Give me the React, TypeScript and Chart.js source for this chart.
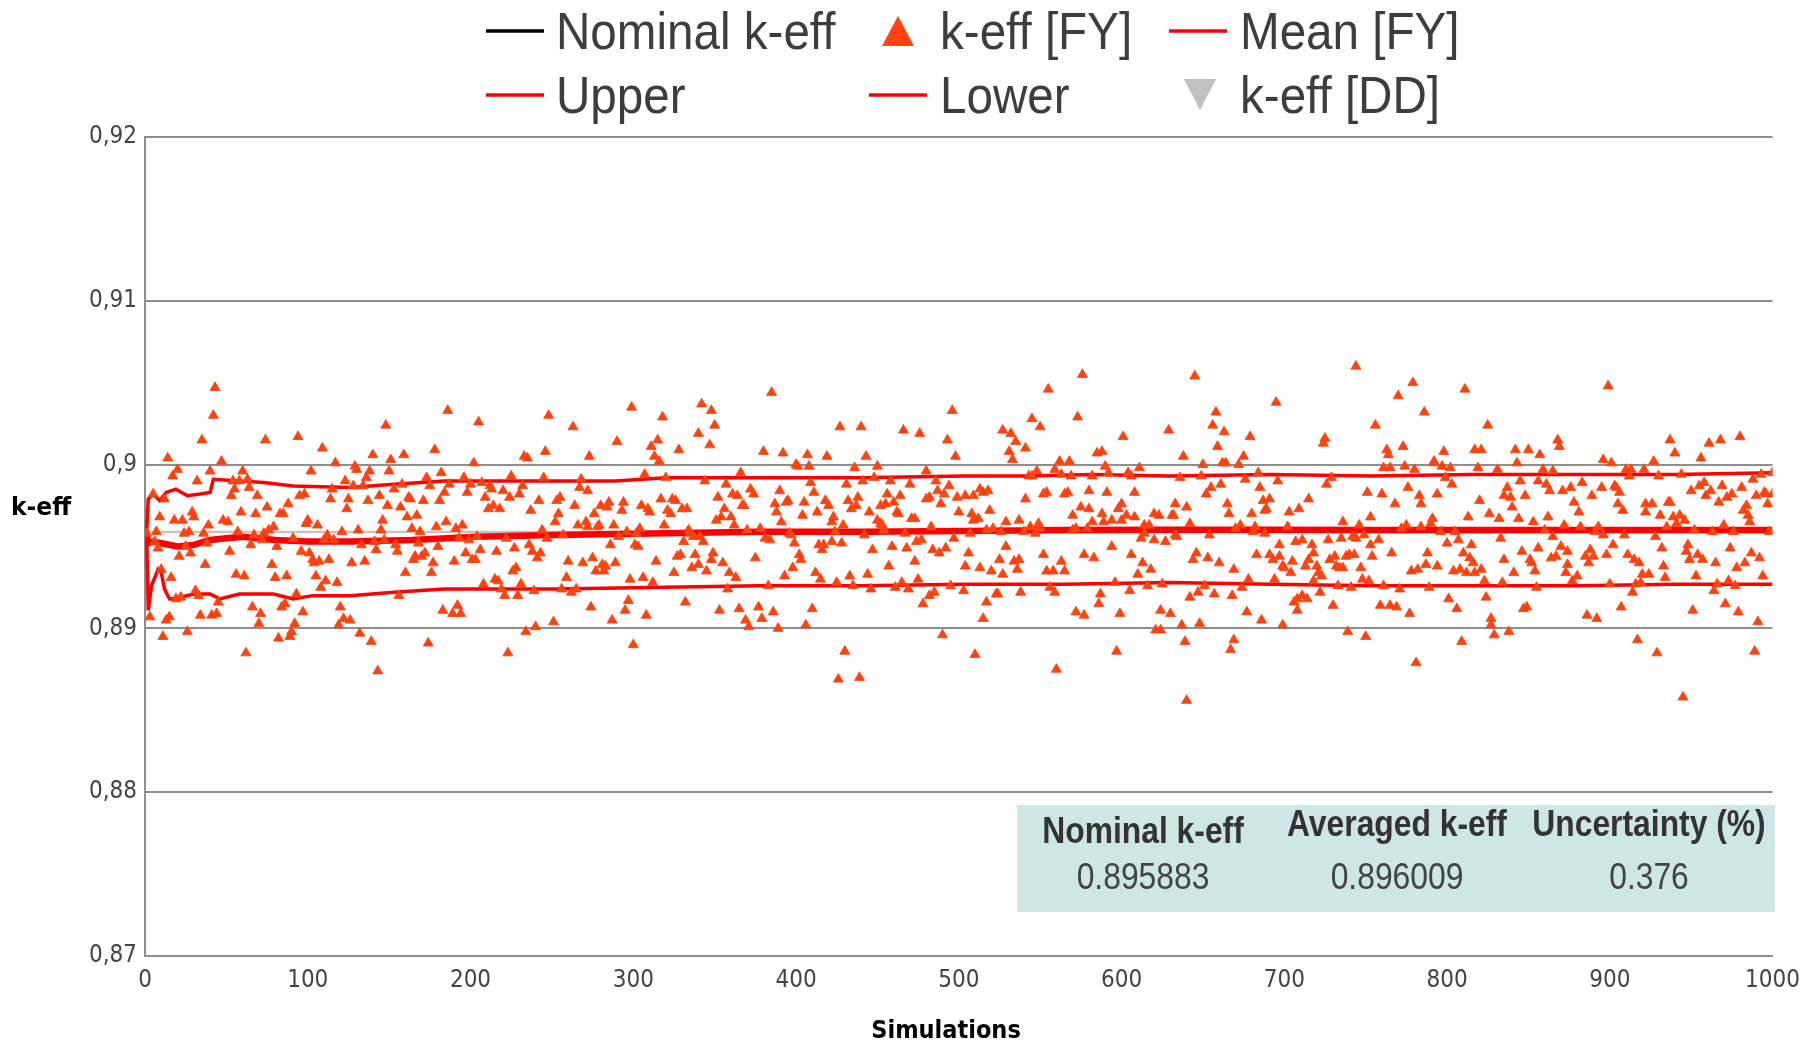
import React, { useEffect, useRef } from 'react';
import { Chart, registerables } from 'chart.js';

Chart.register(...registerables);

// ---------------- DATA ----------------
const xTickValues = [0, 100, 200, 300, 400, 500, 600, 700, 800, 900, 1000];
const yTickValues = [0.87, 0.88, 0.89, 0.9, 0.91, 0.92];

const nominalKeff = 0.895883;
const averagedKeff = 0.896009;
const uncertaintyPct = 0.376;

// k-eff [FY] : [simulation, k-eff]
const keffFY: [number, number][] = [
  [43,.9047],[42,.9030],[35,.9015],[74,.9015],[94,.9017],[109,.9010],[14,.9004],[47,.9002],[117,.9001],
  [20,.8997],[17,.8993],[40,.8996],[60,.8996],[102,.8996],[32,.8990],[54,.8990],[58,.8990],[63,.8991],[123,.8990],
  [55,.8985],[64,.8986],[115,.8985],[5,.8982],[12,.8979],[53,.8981],[69,.8981],[95,.8981],[98,.8982],[114,.8979],[125,.8979],
  [88,.8976],[75,.8974],[29,.8971],[59,.8971],[68,.8970],[83,.8970],[85,.8970],[9,.8968],[18,.8966],[23,.8966],[30,.8968],[48,.8966],[51,.8965],[99,.8964],[100,.8966],[106,.8963],[124,.8973],
  [39,.8963],[79,.8962],[7,.8959],[24,.8958],[27,.8959],[36,.8958],[57,.8959],[76,.8960],[73,.8958],[121,.8959],[112,.8957],
  [1,.8958],[6,.8953],[8,.8949],[25,.8950],[38,.8952],[52,.8947],[65,.8951],[67,.8957],[72,.8954],[81,.8950],[91,.8955],[96,.8947],[101,.8946],[110,.8954],[116,.8954],
  [21,.8944],[28,.8946],[37,.8939],[78,.8939],[103,.8942],[104,.8940],[107,.8941],[113,.8942],[10,.8936],[16,.8931],[56,.8933],[61,.8932],[80,.8931],[87,.8932],[105,.8932],[111,.8929],[118,.8928],[108,.8925],
  [31,.8923],[45,.8916],[19,.8918],[22,.8919],[33,.8920],[93,.8921],[66,.8913],[71,.8909],[97,.8910],[120,.8913],[84,.8913],[86,.8915],
  [3,.8907],[13,.8905],[15,.8907],[34,.8908],[41,.8908],[44,.8909],[70,.8903],[92,.8903],[122,.8906],[126,.8905],[119,.8902],
  [11,.8895],[26,.8898],[82,.8894],[89,.8895],[90,.8898],[62,.8885],

  [148,.9024],[186,.9033],[205,.9026],[248,.9030],[140,.9006],[151,.9003],[159,.9006],[178,.9009],[233,.9005],[235,.9004],[246,.9008],
  [129,.8999],[130,.8997],[138,.8996],[136,.8992],[150,.8996],[182,.8995],[202,.9001],
  [128,.8987],[134,.8987],[137,.8978],[144,.8981],[149,.8975],[153,.8985],[158,.8988],[162,.8980],[163,.8979],[171,.8978],[173,.8992],[175,.8987],[181,.8978],[184,.8983],[187,.8988],[196,.8992],[198,.8983],[200,.8988],[207,.8989],[209,.8980],[211,.8973],[212,.8987],[213,.8985],[214,.8975],[218,.8973],[220,.8984],[224,.8980],[225,.8993],[230,.8982],[232,.8987],[237,.8972],[242,.8978],[245,.8992],
  [157,.8974],[161,.8968],[167,.8969],[146,.8966],[145,.8960],[131,.8960],[164,.8961],[169,.8959],[179,.8962],[185,.8965],[191,.8961],[195,.8963],[193,.8955],[199,.8954],[204,.8956],[222,.8955],[227,.8949],[236,.8951],[244,.8960],[247,.8955],
  [133,.8951],[141,.8953],[142,.8948],[147,.8954],[154,.8951],[155,.8947],[168,.8952],[180,.8950],[190,.8941],[197,.8946],[201,.8942],[203,.8942],[206,.8948],[216,.8947],[238,.8947],[241,.8943],[243,.8946],
  [127,.8940],[135,.8941],[160,.8934],[165,.8942],[166,.8944],[170,.8944],[172,.8946],[177,.8940],[176,.8934],[226,.8935],[228,.8937],[215,.8930],[217,.8929],[208,.8927],[219,.8924],[221,.8920],[229,.8920],[231,.8927],[239,.8923],
  [156,.8920],[183,.8911],[189,.8909],[192,.8914],[194,.8909],[132,.8897],[139,.8892],[174,.8891],[234,.8898],[240,.8901],[223,.8885],[143,.8874],

  [299,.9035],[342,.9037],[348,.9033],[350,.9024],[263,.9023],[318,.9029],[340,.9019],[315,.9015],[290,.9014],[311,.9011],[347,.9012],[328,.9009],[273,.9005],[313,.9005],[316,.9002],
  [307,.8994],[320,.8992],[344,.8990],[366,.8995],[268,.8991],[267,.8986],[272,.8984],[255,.8980],[253,.8978],[357,.8988],[372,.8985],[374,.8982],[352,.8980],[361,.8982],[364,.8981],[368,.8975],[367,.8975],
  [264,.8975],[254,.8970],[252,.8965],[276,.8970],[280,.8975],[285,.8977],[284,.8974],[293,.8972],[294,.8977],[305,.8975],[309,.8973],[310,.8971],[317,.8979],[324,.8979],[326,.8978],[321,.8972],[323,.8970],[330,.8973],[333,.8973],[356,.8973],[354,.8968],[360,.8968],[351,.8966],[362,.8963],
  [266,.8963],[271,.8965],[272,.8962],[279,.8963],[278,.8962],[288,.8963],[296,.8959],[302,.8958],[304,.8961],[319,.8963],[334,.8960],[335,.8958],[337,.8956],[341,.8956],[343,.8953],[370,.8960],[257,.8957],[291,.8956],[331,.8953],[286,.8951],[301,.8951],[303,.8950],
  [260,.8941],[269,.8940],[275,.8943],[281,.8939],[283,.8938],[277,.8935],[282,.8935],[289,.8940],[314,.8941],[327,.8944],[329,.8945],[338,.8945],[349,.8946],[348,.8942],[355,.8940],[336,.8937],[340,.8939],[345,.8935],[325,.8934],[375,.8943],
  [259,.8931],[298,.8930],[306,.8931],[312,.8928],[359,.8934],[363,.8931],[256,.8924],[262,.8922],[265,.8924],[358,.8924],
  [274,.8913],[297,.8917],[295,.8911],[308,.8908],[332,.8916],[353,.8911],[365,.8912],[251,.8904],[287,.8905],[369,.8905],[371,.8901],[300,.8890],

  [385,.9044],[496,.9033],[427,.9023],[440,.9023],[466,.9021],[476,.9019],[493,.9015],[380,.9008],[392,.9007],[407,.9006],[419,.9005],[443,.9005],[498,.9005],[400,.9000],[401,.8999],[408,.8999],[436,.8998],[450,.8999],
  [480,.8996],[409,.8989],[431,.8988],[441,.8990],[448,.8992],[458,.8990],[470,.8988],[486,.8990],[494,.8987],[390,.8984],[411,.8983],[456,.8982],[464,.8981],[487,.8984],[491,.8982],[480,.8979],[482,.8980],[499,.8980],
  [387,.8976],[388,.8971],[394,.8977],[395,.8978],[405,.8977],[404,.8969],[413,.8971],[418,.8978],[420,.8975],[432,.8978],[434,.8973],[437,.8975],[438,.8980],[445,.8971],[452,.8975],[455,.8976],[460,.8977],[462,.8971],[463,.8970],[489,.8976],[500,.8971],
  [391,.8965],[378,.8961],[381,.8955],[384,.8954],[396,.8958],[397,.8957],[422,.8965],[423,.8968],[424,.8959],[429,.8963],[442,.8957],[450,.8966],[452,.8964],[454,.8960],[453,.8963],[467,.8958],[471,.8967],[473,.8967],[483,.8962],
  [399,.8952],[414,.8951],[416,.8948],[417,.8951],[422,.8953],[428,.8952],[447,.8948],[459,.8950],[468,.8949],[474,.8953],[477,.8954],[484,.8948],[488,.8946],[492,.8949],[497,.8955],
  [402,.8945],[403,.8942],[398,.8937],[393,.8932],[412,.8934],[415,.8930],[433,.8932],[444,.8933],[457,.8938],[473,.8941],[475,.8930],
  [383,.8926],[425,.8928],[435,.8926],[446,.8924],[461,.8925],[465,.8928],[469,.8924],[482,.8920],[485,.8922],[478,.8915],[495,.8926],
  [377,.8913],[386,.8910],[379,.8906],[410,.8912],[389,.8900],[406,.8902],[490,.8896],[430,.8886],[426,.8869],[439,.8870],

  [576,.9055],[555,.9046],[545,.9028],[573,.9029],[550,.9023],[527,.9021],[532,.9019],[535,.9014],[531,.9008],[541,.9010],[533,.9003],[601,.9017],[588,.9008],[585,.9007],
  [562,.9002],[568,.9002],[559,.8997],[563,.8994],[569,.8993],[543,.8993],[545,.8993],[548,.8996],[582,.8993],[590,.8999],[592,.8995],[604,.8995],[606,.8993],[611,.8998],
  [513,.8985],[515,.8983],[518,.8984],[504,.8981],[509,.8981],[541,.8979],[552,.8982],[554,.8983],[565,.8982],[567,.8983],[580,.8984],[591,.8983],[608,.8983],
  [508,.8970],[509,.8966],[512,.8967],[519,.8972],[529,.8965],[537,.8966],[544,.8962],[549,.8964],[550,.8961],[570,.8969],[575,.8974],[580,.8973],[582,.8965],[588,.8970],[589,.8965],[594,.8966],[598,.8973],[600,.8976],[600,.8966],[603,.8969],[608,.8968],[620,.8970],[623,.8969],[614,.8963],[617,.8963],
  [507,.8958],[517,.8960],[521,.8961],[526,.8959],[540,.8959],[547,.8958],[570,.8960],[572,.8961],[579,.8961],[612,.8955],[614,.8958],[620,.8954],
  [506,.8946],[529,.8950],[504,.8938],[513,.8937],[520,.8935],[525,.8942],[527,.8933],[534,.8941],[536,.8936],[537,.8942],[552,.8945],[554,.8935],[558,.8935],[563,.8941],[565,.8935],[577,.8945],[583,.8943],[594,.8950],[606,.8945],[613,.8940],[610,.8933],[618,.8936],
  [503,.8923],[517,.8916],[523,.8921],[524,.8921],[538,.8922],[556,.8925],[559,.8922],[586,.8915],[587,.8921],[596,.8928],[605,.8923],[616,.8926],[625,.8927],
  [515,.8906],[572,.8910],[577,.8908],[599,.8909],[624,.8911],[621,.8899],[624,.8899],[510,.8884],[597,.8886],[560,.8875],

  [645,.9054],[744,.9060],[695,.9038],[658,.9032],[656,.9024],[663,.9020],[629,.9021],[679,.9017],[659,.9011],[725,.9016],[724,.9013],[638,.9005],[675,.9005],[650,.9000],[662,.9001],[664,.9001],[672,.9000],
  [636,.8992],[649,.8993],[676,.8991],[684,.8995],[696,.8990],[729,.8992],[726,.8988],[655,.8986],[652,.8982],[661,.8988],[685,.8986],[751,.8983],
  [633,.8976],[640,.8974],[631,.8969],[632,.8969],[665,.8976],[666,.8970],[687,.8978],[691,.8979],[689,.8973],[688,.8972],[680,.8970],[703,.8971],[709,.8973],[715,.8979],[753,.8968],
  [642,.8964],[634,.8956],[633,.8957],[627,.8953],[654,.8957],[670,.8961],[673,.8963],[682,.8962],[681,.8959],[688,.8958],[702,.8962],[697,.8951],[707,.8953],[711,.8954],[717,.8951],[718,.8946],[736,.8965],[746,.8963],[727,.8954],[735,.8955],[742,.8956],[744,.8955],[749,.8957],[753,.8951],
  [646,.8946],[644,.8942],[653,.8943],[660,.8940],[669,.8936],[683,.8945],[691,.8945],[697,.8944],[693,.8942],[699,.8938],[700,.8937],[705,.8941],[704,.8934],[713,.8938],[715,.8942],[720,.8938],[721,.8934],[723,.8932],[728,.8942],[731,.8944],[732,.8938],[734,.8937],[736,.8937],[738,.8944],[743,.8945],[740,.8945],[747,.8937],
  [642,.8919],[647,.8922],[651,.8926],[657,.8921],[668,.8920],[674,.8925],[678,.8930],[694,.8930],[718,.8929],[722,.8922],[733,.8926],[741,.8925],[748,.8930],[752,.8929],[706,.8916],[708,.8918],[711,.8920],[714,.8918],[708,.8911],[730,.8914],
  [630,.8909],[677,.8910],[686,.8905],[637,.8902],[648,.8903],[699,.8902],[739,.8898],[750,.8895],[639,.8892],[669,.8893],[667,.8887],[640,.8856],

  [779,.9050],[811,.9046],[770,.9042],[786,.9032],[756,.9024],[825,.9024],[868,.9015],[869,.9011],[763,.9009],[764,.9006],[773,.9011],[798,.9008],[817,.9009],[821,.9009],[842,.9009],[850,.9009],[857,.9006],[843,.9001],[792,.9002],[792,.9001],
  [761,.8998],[765,.8998],[774,.8999],[780,.8997],[797,.8999],[802,.8998],[819,.8998],[831,.8997],[859,.8997],[865,.8996],[799,.8992],[803,.8988],[845,.8990],[856,.8990],[861,.8988],[863,.8984],[871,.8984],[876,.8986],[776,.8986],[760,.8982],[783,.8981],[784,.8976],[794,.8982],[768,.8976],[820,.8978],[837,.8986],[839,.8980],[835,.8981],[840,.8974],[848,.8981],[878,.8977],
  [772,.8961],[775,.8963],[784,.8962],[790,.8964],[791,.8967],[796,.8959],[805,.8959],[813,.8968],[826,.8970],[832,.8967],[844,.8967],[853,.8965],[862,.8968],[872,.8963],[860,.8960],[865,.8956],[833,.8955],[758,.8954],[807,.8954],[815,.8951],[800,.8952],
  [754,.8944],[766,.8946],[788,.8946],[810,.8946],[814,.8943],[816,.8940],[835,.8942],[846,.8947],[851,.8942],[852,.8940],[856,.8949],[870,.8950],[864,.8943],[867,.8944],[874,.8947],[874,.8939],[778,.8935],[782,.8936],[787,.8939],[794,.8938],[804,.8935],[808,.8936],[812,.8934],[817,.8934],[821,.8936],[841,.8934],[854,.8935],[873,.8934],[877,.8929],
  [761,.8926],[771,.8924],[789,.8925],[823,.8929],[834,.8928],[855,.8925],[759,.8914],[765,.8914],[769,.8913],[777,.8909],[801,.8918],[806,.8912],[824,.8919],[847,.8912],[849,.8913],[827,.8906],[827,.8902],[829,.8896],[838,.8898],[809,.8892],[781,.8879],

  [899,.9048],[937,.9015],[940,.9007],[961,.9013],[968,.9015],[980,.9017],[896,.9003],[901,.9001],[927,.9002],[956,.9004],[910,.8997],[913,.8997],[912,.8993],[921,.8997],[930,.8993],[944,.8994],[988,.8991],[993,.8994],[1000,.8995],
  [883,.8989],[895,.8986],[889,.8981],[903,.8987],[904,.8986],[906,.8983],[950,.8984],[955,.8987],[958,.8989],[959,.8981],[962,.8984],[969,.8987],[972,.8980],[975,.8982],[981,.8986],[990,.8981],[995,.8983],[996,.8982],[1000,.8982],[881,.8971],[905,.8976],[908,.8972],[922,.8976],[926,.8976],[922,.8971],[931,.8969],[936,.8977],[937,.8977],[939,.8968],[943,.8969],[941,.8964],[946,.8966],[967,.8977],[984,.8975],[982,.8972],[985,.8969],[986,.8965],[997,.8976],
  [882,.8962],[893,.8962],[891,.8959],[896,.8957],[909,.8957],[928,.8956],[935,.8962],[952,.8960],[963,.8959],[970,.8963],[976,.8959],[998,.8959],[948,.8951],[932,.8949],[974,.8949],[902,.8951],[888,.8948],[885,.8944],[890,.8944],[887,.8940],[898,.8945],[911,.8945],[915,.8942],[918,.8940],[933,.8938],[947,.8947],[949,.8942],[954,.8945],[957,.8942],[965,.8940],[978,.8937],[983,.8940],[987,.8946],[992,.8943],
  [880,.8932],[920,.8933],[924,.8933],[934,.8931],[953,.8932],[994,.8932],[900,.8927],[916,.8927],[919,.8928],[914,.8922],[966,.8927],[964,.8923],[973,.8929],[977,.8926],[907,.8913],[886,.8908],[892,.8906],[951,.8911],[971,.8915],[979,.8910],[991,.8904],[917,.8893],[929,.8885],[989,.8886],[945,.8858],
];

// Mean [FY]
const meanSims = [1, 2, 5, 10, 20, 30, 40, 50, 60, 80, 100, 126, 164, 204, 251, 310, 377, 440, 503, 565, 629, 692, 754, 815, 880, 940, 1000];
const meanVals = [0.8958, 0.8952, 0.8953, 0.8952, 0.8950, 0.8951, 0.8954, 0.8955, 0.8956, 0.8954, 0.8953, 0.8953, 0.8954, 0.8956, 0.8957, 0.8958, 0.8959, 0.8959, 0.89595, 0.8960, 0.89602, 0.89603, 0.89601, 0.89600, 0.89600, 0.89601, 0.89601];

// Upper
const upperSims = [1, 2, 5, 9, 13, 19, 26, 34, 40, 42, 58, 73, 91, 126, 153, 184, 215, 251, 289, 320, 350, 377, 440, 503, 541, 582, 629, 692, 754, 815, 880, 940, 1000];
const upperVals = [0.8958, 0.8979, 0.8982, 0.8978, 0.8983, 0.8985, 0.8981, 0.8982, 0.8983, 0.8991, 0.8990, 0.8989, 0.8987, 0.8986, 0.8988, 0.8990, 0.8990, 0.8990, 0.8990, 0.8992, 0.8992, 0.8992, 0.8992, 0.8993, 0.8993, 0.8994, 0.8993, 0.8994, 0.8993, 0.8994, 0.8994, 0.8994, 0.8995];

// Lower
const lowerSims = [1, 2, 4, 8, 10, 12, 15, 22, 30, 40, 46, 58, 79, 91, 103, 126, 153, 184, 215, 251, 310, 377, 440, 503, 565, 629, 692, 754, 815, 880, 940, 1000];
const lowerVals = [0.8958, 0.8911, 0.8926, 0.8936, 0.8934, 0.8924, 0.8918, 0.8919, 0.8921, 0.8921, 0.8918, 0.8921, 0.8921, 0.8918, 0.8920, 0.8920, 0.8922, 0.8924, 0.8924, 0.8924, 0.8925, 0.8926, 0.8926, 0.8927, 0.8927, 0.8928, 0.8927, 0.8926, 0.8926, 0.8926, 0.8927, 0.8927];

// k-eff [DD] (no visible points)
const keffDD: [number, number][] = [];

const legendLabels = ['Nominal k-eff', 'k-eff [FY]', 'Mean [FY]', 'Upper', 'Lower', 'k-eff [DD]'];
const tableHeaders = ['Nominal k-eff', 'Averaged k-eff', 'Uncertainty (%)'];

// ---------------- STYLE ----------------
const FY_COLOR = '#ff420e';
const RED = '#ff0000';
const GRID = '#8e8e8e';
const TEXT = '#3d3d3d';
const SANS = '"Liberation Sans", Arial, sans-serif';
const TICK_FONT = { family: '"DejaVu Sans Condensed", "DejaVu Sans"', size: 24 };

const overlayPlugin = {
  id: 'overlay',
  afterDraw(chart: any) {
    const ctx: CanvasRenderingContext2D = chart.ctx;
    const text = (s: string, x: number, y: number, align: CanvasTextAlign, font: string, color: string, sx: number) => {
      ctx.save();
      ctx.translate(x, y);
      ctx.scale(sx, 1);
      ctx.font = font;
      ctx.fillStyle = color;
      ctx.textAlign = align;
      ctx.textBaseline = 'middle';
      ctx.fillText(s, 0, 0);
      ctx.restore();
    };
    ctx.save();

    // axis titles
    text('k-eff', 11, 508, 'left', 'bold 25px "DejaVu Sans Condensed", "DejaVu Sans"', '#000', 1.04);
    text('Simulations', 946, 1031, 'center', 'bold 25px "DejaVu Sans Condensed", "DejaVu Sans"', '#000', 1);

    // legend
    const line = (x1: number, x2: number, y: number, color: string) => {
      ctx.strokeStyle = color;
      ctx.lineWidth = 3.5;
      ctx.beginPath();
      ctx.moveTo(x1, y);
      ctx.lineTo(x2, y);
      ctx.stroke();
    };
    const tri = (cx: number, top: number, bottom: number, hw: number, color: string) => {
      ctx.fillStyle = color;
      ctx.beginPath();
      ctx.moveTo(cx, top);
      ctx.lineTo(cx + hw, bottom);
      ctx.lineTo(cx - hw, bottom);
      ctx.closePath();
      ctx.fill();
    };
    const r1 = 31, r2 = 95;
    line(486, 544, r1, '#000000');
    tri(898, 16, 46, 16, FY_COLOR);
    line(1169, 1227, r1, RED);
    line(486, 544, r2, RED);
    line(869, 927, r2, RED);
    tri(1200, 110, 79, 16, '#c0c0c0');

    const lf = `52px ${SANS}`;
    const lsx = 0.915;
    const ty1 = 35, ty2 = 99;
    text(legendLabels[0], 556, ty1, 'left', lf, TEXT, lsx);
    text(legendLabels[1], 940, ty1, 'left', lf, TEXT, lsx);
    text(legendLabels[2], 1240, ty1, 'left', lf, TEXT, lsx);
    text(legendLabels[3], 556, ty2, 'left', lf, TEXT, lsx);
    text(legendLabels[4], 940, ty2, 'left', lf, TEXT, lsx);
    text(legendLabels[5], 1240, ty2, 'left', lf, TEXT, lsx);

    // table
    ctx.fillStyle = '#cfe7e4';
    ctx.fillRect(1017, 805, 758, 107);
    const hf = `bold 37px ${SANS}`;
    const vf = `37px ${SANS}`;
    const tsx = 0.86;
    text(tableHeaders[0], 1143, 833, 'center', hf, '#333333', tsx);
    text(tableHeaders[1], 1397, 826, 'center', hf, '#333333', tsx);
    text(tableHeaders[2], 1649, 826, 'center', hf, '#333333', tsx);
    text(nominalKeff.toFixed(6), 1143, 879, 'center', vf, '#444444', tsx);
    text(averagedKeff.toFixed(6), 1397, 879, 'center', vf, '#444444', tsx);
    text(uncertaintyPct.toFixed(3), 1649, 879, 'center', vf, '#444444', tsx);

    ctx.restore();
  },
};

export default function App() {
  const ref = useRef<HTMLCanvasElement | null>(null);

  useEffect(() => {
    if (!ref.current) return;
    const toXY = (xs: number[], ys: number[]) => xs.map((x, i) => ({ x, y: ys[i] }));
    const chart = new Chart(ref.current, {
      type: 'scatter',
      data: {
        datasets: [
          {
            label: legendLabels[1],
            data: keffFY.map(([x, y]) => ({ x, y })),
            pointStyle: 'triangle',
            pointRadius: 5.8,
            pointBackgroundColor: FY_COLOR,
            pointBorderColor: FY_COLOR,
            pointBorderWidth: 0.8,
            order: 0,
          },
          {
            label: legendLabels[2],
            data: toXY(meanSims, meanVals),
            showLine: true,
            borderColor: RED,
            borderWidth: 6.5,
            pointRadius: 0,
            tension: 0,
            order: 1,
          },
          {
            label: legendLabels[3],
            data: toXY(upperSims, upperVals),
            showLine: true,
            borderColor: RED,
            borderWidth: 3.5,
            pointRadius: 0,
            order: 2,
          },
          {
            label: legendLabels[4],
            data: toXY(lowerSims, lowerVals),
            showLine: true,
            borderColor: RED,
            borderWidth: 3.5,
            pointRadius: 0,
            order: 3,
          },
          {
            label: legendLabels[5],
            data: keffDD.map(([x, y]) => ({ x, y })),
            pointStyle: 'triangle',
            rotation: 180,
            pointBackgroundColor: '#c0c0c0',
            order: 4,
          },
          {
            label: legendLabels[0],
            data: [
              { x: xTickValues[0], y: nominalKeff },
              { x: xTickValues[xTickValues.length - 1], y: nominalKeff },
            ],
            showLine: true,
            borderColor: '#c4c4c4',
            borderWidth: 2.5,
            pointRadius: 0,
            order: 5,
          },
        ],
      },
      options: {
        animation: false,
        responsive: false,
        layout: { padding: { top: 137, right: 33, left: 0, bottom: 0 } },
        plugins: { legend: { display: false }, tooltip: { enabled: false } },
        scales: {
          x: {
            type: 'linear',
            min: xTickValues[0],
            max: xTickValues[xTickValues.length - 1],
            afterBuildTicks: (s: any) => { s.ticks = xTickValues.map((v) => ({ value: v })); },
            ticks: {
              autoSkip: false,
              maxRotation: 0,
              padding: 10,
              color: '#444',
              font: TICK_FONT,
              callback: (v: any) => String(v),
            },
            grid: { display: false, drawTicks: false },
            border: { color: GRID, width: 2 },
            afterFit: (s: any) => { s.height = 89; },
          },
          y: {
            min: yTickValues[0],
            max: yTickValues[yTickValues.length - 1],
            afterBuildTicks: (s: any) => { s.ticks = yTickValues.map((v) => ({ value: v })); },
            ticks: {
              autoSkip: false,
              padding: 8,
              color: '#444',
              font: TICK_FONT,
              callback: (v: any) => String(Math.round(Number(v) * 100) / 100).replace('.', ','),
            },
            grid: { color: GRID, lineWidth: 2, drawTicks: false },
            border: { color: GRID, width: 2 },
            afterFit: (s: any) => { s.width = 145; },
          },
        },
      },
      plugins: [overlayPlugin],
    } as any);
    return () => chart.destroy();
  }, []);

  return (
    <canvas
      ref={ref}
      width={1810}
      height={1045}
      style={{ position: 'absolute', left: 0, top: 0, width: 1810, height: 1045 }}
    />
  );
}
